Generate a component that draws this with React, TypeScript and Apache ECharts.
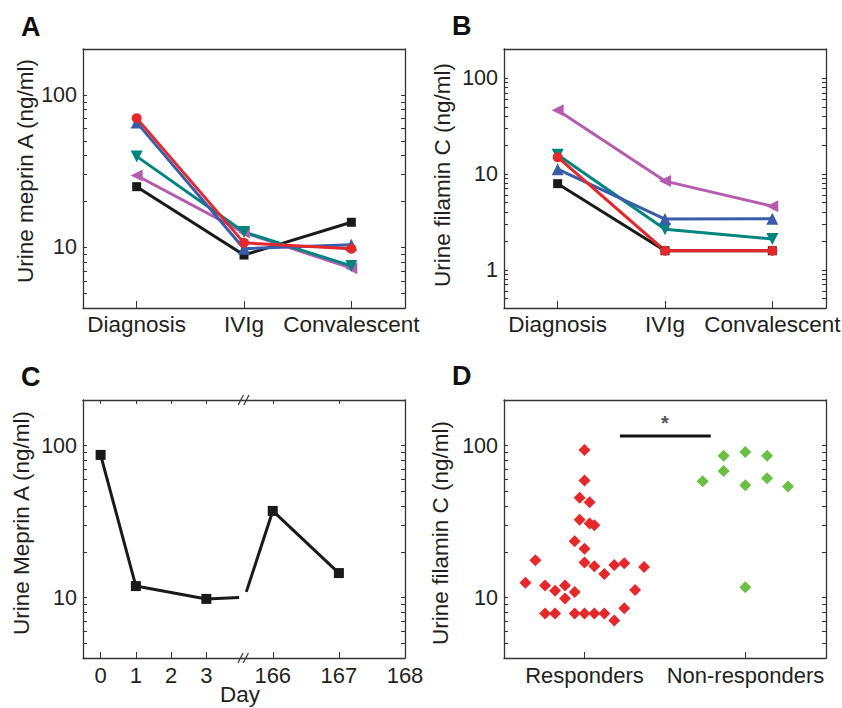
import { useEffect, useRef } from 'react';
import * as echarts from 'echarts';

// ---------- data ----------
const stageCategories = ['Diagnosis', 'IVIg', 'Convalescent'];

// Panel A: urine meprin A (ng/ml)
const meprinBlack = [25, 8.9, 14.6];
const meprinMagenta = [29.6, 12.5, 7.3];
const meprinTeal = [39.5, 12.6, 7.55];
const meprinBlue = [66, 9.8, 10.4];
const meprinRed = [70.4, 10.7, 9.8];

// Panel B: urine filamin C (ng/ml)
const filaminBlack = [7.9, 1.58, 1.58];
const filaminMagenta = [46, 8.4, 4.6];
const filaminTeal = [15.8, 2.64, 2.1];
const filaminBlue = [11.2, 3.38, 3.4];
const filaminRed = [14.9, 1.58, 1.58];

// Panel C: urine meprin A over days (broken axis)
const days = [0, 1, 3, 166, 167];
const meprinByDay = [87, 11.9, 9.8, 37.2, 14.5];
const breakLeftEnd = [3.93, 10.0];
const breakRightStart = [165.6, 10.9];
const dayTicksLeft = [0, 1, 2, 3];
const dayTicksRight = [166, 167, 168];

// Panel D: urine filamin C by response
const groups = ['Responders', 'Non-responders'];
const respondersX = [0.5, 0.5, 0.47, 0.532, 0.47, 0.532, 0.561, 0.439, 0.5, 0.195, 0.5, 0.561, 0.685, 0.747, 0.87, 0.623, 0.133, 0.255, 0.379, 0.317, 0.439, 0.814, 0.379, 0.255, 0.317, 0.439, 0.5, 0.561, 0.623, 0.685, 0.747];
const respondersY = [93.7, 59, 45.4, 42.5, 32.6, 30.7, 29.9, 23.5, 21, 17.6, 17, 16.1, 16.4, 16.8, 15.9, 14.3, 12.5, 12.0, 12.0, 11.1, 10.9, 11.2, 9.85, 7.85, 7.85, 7.85, 7.85, 7.85, 7.85, 7.07, 8.51];
const nonRespondersX = [1.234, 1.364, 1.364, 1.499, 1.499, 1.499, 1.634, 1.634, 1.764];
const nonRespondersY = [58.4, 86, 68.2, 90.9, 55, 11.7, 86, 61.1, 53.9];
const sigBar = [[0.72, 116], [1.284, 116]];
const sigStar = [1.0, 142];

// log tick sets
const majorAC = [10, 100];
const minorAC = [4, 5, 6, 7, 8, 9, 10, 20, 30, 40, 50, 60, 70, 80, 90, 100, 200];
const majorB = [1, 10, 100];
const minorB = [0.4, 0.5, 0.6, 0.7, 0.8, 0.9, 1, 2, 3, 4, 5, 6, 7, 8, 9, 10, 20, 30, 40, 50, 60, 70, 80, 90, 100, 200];

// ---------- styles ----------
const FONT = '"Liberation Sans", Arial, Helvetica, sans-serif';
const TEXT = '#231f20';
const AXIS = '#333333';
const RED = '#e5282b';
const BLUE = '#3a5dab';
const TEAL = '#00857f';
const MAGENTA = '#b55bb0';
const BLACK = '#1a1a1a';
const GREEN = '#6cbf45';

const axisLine = { show: true, onZero: false, lineStyle: { color: AXIS, width: 1.3 } };
const fmtNum = (v: number) => String(Math.round(v * 1000) / 1000);

function logAxis(gridIndex: number, position: 'left' | 'right', min: number, max: number, labels: number[] | null, ticks: number[]) {
  return {
    type: 'log',
    logBase: 10,
    gridIndex,
    position,
    min,
    max,
    axisLine,
    splitLine: { show: false },
    minorTick: { show: false },
    axisTick: { show: true, inside: true, length: 4, customValues: ticks, lineStyle: { color: AXIS, width: 1 } },
    axisLabel: labels
      ? { show: true, customValues: labels, margin: 6, color: TEXT, fontFamily: FONT, fontSize: 21.5, formatter: fmtNum }
      : { show: false },
  };
}

function catAxis(gridIndex: number, position: 'bottom' | 'top', withLabels: boolean) {
  return {
    type: 'category',
    gridIndex,
    position,
    data: stageCategories,
    boundaryGap: true,
    axisLine,
    splitLine: { show: false },
    axisTick: { show: withLabels, inside: true, alignWithLabel: true, length: 7, lineStyle: { color: AXIS, width: 1 } },
    axisLabel: withLabels
      ? { show: true, margin: 5, color: TEXT, fontFamily: FONT, fontSize: 22.5, interval: 0 }
      : { show: false },
  };
}

function valAxis(gridIndex: number, position: 'bottom' | 'top', min: number, max: number, ticks: number[], labels: boolean, formatter?: (v: number) => string) {
  return {
    type: 'value',
    gridIndex,
    position,
    min,
    max,
    axisLine,
    splitLine: { show: false },
    minorTick: { show: false },
    axisTick: { show: ticks.length > 0, inside: true, length: position === 'top' ? 4 : 6, customValues: ticks, lineStyle: { color: AXIS, width: 1 } },
    axisLabel: labels
      ? { show: true, customValues: ticks, margin: 6, color: TEXT, fontFamily: FONT, fontSize: 22, formatter: formatter || fmtNum }
      : { show: false },
  };
}

function patient(name: string, color: string, symbol: string, rotate: number, size: number, data: number[], xi: number, yi: number) {
  return {
    type: 'line',
    name,
    xAxisIndex: xi,
    yAxisIndex: yi,
    data,
    symbol,
    symbolRotate: rotate,
    symbolSize: size,
    showAllSymbol: true,
    lineStyle: { color, width: 3 },
    itemStyle: { color, opacity: 1 },
  };
}

function patientsFor(xi: number, yi: number, black: number[], magenta: number[], teal: number[], blue: number[], red: number[]) {
  return [
    patient('P1', BLACK, 'rect', 0, 9, black, xi, yi),
    patient('P5', MAGENTA, 'triangle', 90, 12, magenta, xi, yi),
    patient('P4', TEAL, 'triangle', 180, 12, teal, xi, yi),
    patient('P3', BLUE, 'triangle', 0, 12, blue, xi, yi),
    patient('P2', RED, 'circle', 0, 10, red, xi, yi),
  ];
}

function yTitle(text: string, x: number, y: number) {
  return {
    type: 'text',
    x,
    y,
    rotation: Math.PI / 2,
    style: { text, fontFamily: FONT, fontSize: 22.5, fill: TEXT, align: 'center', verticalAlign: 'middle' },
  };
}

function panelLetter(text: string, x: number, y: number) {
  return {
    type: 'text',
    x,
    y,
    style: { text, fontFamily: FONT, fontSize: 27, fontWeight: 'bold', fill: '#111', align: 'left', verticalAlign: 'middle' },
  };
}

function slash(x: number, y: number) {
  return {
    type: 'line',
    shape: { x1: x - 2.6, y1: y + 5, x2: x + 2.6, y2: y - 5 },
    style: { stroke: AXIS, lineWidth: 1.2 },
  };
}

export default function App() {
  const ref = useRef<HTMLDivElement>(null);

  useEffect(() => {
    if (!ref.current) return;
    const chart = echarts.init(ref.current, undefined, { renderer: 'svg' });

    const leftDays = days.map((d, i) => [d, meprinByDay[i]]).filter((p) => p[0] <= 4);
    const rightDays = days.map((d, i) => [d, meprinByDay[i]]).filter((p) => p[0] > 4);

    const option: any = {
      animation: false,
      backgroundColor: '#ffffff',
      grid: [
        { left: 83, top: 49, width: 322, height: 259, outerBoundsMode: 'none' },
        { left: 504, top: 49, width: 322, height: 259, outerBoundsMode: 'none' },
        { left: 83, top: 400, width: 160, height: 258, outerBoundsMode: 'none' },
        { left: 243, top: 400, width: 162, height: 258, outerBoundsMode: 'none' },
        { left: 504, top: 400, width: 322, height: 258, outerBoundsMode: 'none' },
      ],
      xAxis: [
        catAxis(0, 'bottom', true),
        catAxis(0, 'top', false),
        catAxis(1, 'bottom', true),
        catAxis(1, 'top', false),
        valAxis(2, 'bottom', -0.5, 4.04, dayTicksLeft, true),
        valAxis(2, 'top', -0.5, 4.04, dayTicksLeft, false),
        valAxis(3, 'bottom', 165.55, 168, dayTicksRight, true),
        valAxis(3, 'top', 165.55, 168, dayTicksRight, false),
        valAxis(4, 'bottom', 0, 2, [0.5, 1.5], true, (v: number) => groups[Math.floor(v)]),
        valAxis(4, 'top', 0, 2, [], false),
      ],
      yAxis: [
        logAxis(0, 'left', 4, 200, majorAC, minorAC),
        logAxis(0, 'right', 4, 200, null, minorAC),
        logAxis(1, 'left', 0.4, 200, majorB, minorB),
        logAxis(1, 'right', 0.4, 200, null, minorB),
        logAxis(2, 'left', 4, 200, majorAC, minorAC),
        logAxis(3, 'right', 4, 200, null, minorAC),
        logAxis(4, 'left', 4, 200, majorAC, minorAC),
        logAxis(4, 'right', 4, 200, null, minorAC),
      ],
      series: [
        ...patientsFor(0, 0, meprinBlack, meprinMagenta, meprinTeal, meprinBlue, meprinRed),
        ...patientsFor(2, 2, filaminBlack, filaminMagenta, filaminTeal, filaminBlue, filaminRed),
        {
          type: 'line',
          xAxisIndex: 4,
          yAxisIndex: 4,
          data: [...leftDays, { value: breakLeftEnd, symbol: 'none' }],
          symbol: 'rect',
          symbolSize: 10,
          lineStyle: { color: BLACK, width: 3 },
          itemStyle: { color: BLACK, opacity: 1 },
        },
        {
          type: 'line',
          xAxisIndex: 6,
          yAxisIndex: 5,
          data: [{ value: breakRightStart, symbol: 'none' }, ...rightDays],
          symbol: 'rect',
          symbolSize: 10,
          lineStyle: { color: BLACK, width: 3 },
          itemStyle: { color: BLACK, opacity: 1 },
        },
        {
          type: 'scatter',
          xAxisIndex: 8,
          yAxisIndex: 6,
          data: respondersX.map((x, i) => [x, respondersY[i]]),
          symbol: 'diamond',
          symbolSize: 12,
          itemStyle: { color: RED, opacity: 1 },
        },
        {
          type: 'scatter',
          xAxisIndex: 8,
          yAxisIndex: 6,
          data: nonRespondersX.map((x, i) => [x, nonRespondersY[i]]),
          symbol: 'diamond',
          symbolSize: 12,
          itemStyle: { color: GREEN, opacity: 1 },
        },
        {
          type: 'line',
          xAxisIndex: 8,
          yAxisIndex: 6,
          data: sigBar,
          symbol: 'none',
          lineStyle: { color: '#111', width: 3 },
        },
        {
          type: 'scatter',
          xAxisIndex: 8,
          yAxisIndex: 6,
          data: [sigStar],
          symbolSize: 1,
          itemStyle: { color: 'rgba(0,0,0,0)' },
          label: { show: true, position: 'inside', formatter: '*', fontFamily: FONT, fontSize: 20, fontWeight: 'bold', color: '#222' },
        },
      ],
      graphic: [
        panelLetter('A', 21, 26.6),
        panelLetter('B', 452, 26.3),
        panelLetter('C', 21, 377),
        panelLetter('D', 452, 376.4),
        yTitle('Urine meprin A (ng/ml)', 25.7, 171),
        yTitle('Urine filamin C (ng/ml)', 442.7, 175),
        yTitle('Urine Meprin A (ng/ml)', 21.7, 523),
        yTitle('Urine filamin C (ng/ml)', 440, 533),
        {
          type: 'text',
          x: 240,
          y: 694.4,
          style: { text: 'Day', fontFamily: FONT, fontSize: 22.5, fill: TEXT, align: 'center', verticalAlign: 'middle' },
        },
        slash(240.8, 400),
        slash(246.4, 400),
        slash(240.5, 658),
        slash(245.8, 658),
      ],
    };

    chart.setOption(option);
    return () => chart.dispose();
  }, []);

  return <div ref={ref} style={{ position: 'fixed', left: 0, top: 0, width: 842, height: 708, background: '#fff' }} />;
}
